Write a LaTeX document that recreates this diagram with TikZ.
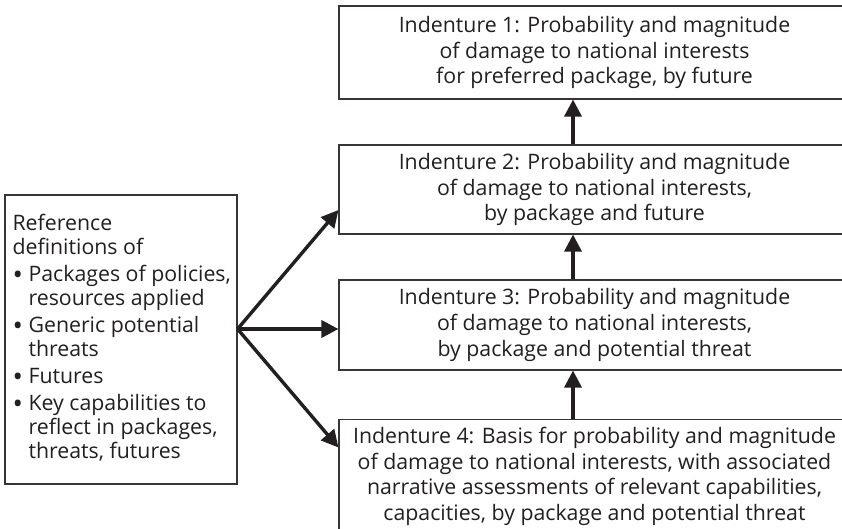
\documentclass[tikz,border=0pt]{standalone}
\usepackage{fontspec}
\setmainfont{Open Sans}
\usetikzlibrary{arrows.meta}
\definecolor{ink}{HTML}{231F20}
\newcommand{\bul}{\makebox[16pt][l]{\raisebox{-3.2pt}{\scalebox{1.3}{\textbullet}}}}
\tikzset{
  box/.style={draw=ink!90, line width=1.1pt, text=ink, align=center, inner sep=0pt,
    font=\fontsize{21.3}{25.7}\selectfont},
  arr/.style={draw=ink, line width=3.4pt, -{Triangle[length=17pt,width=17pt]}}
}
\begin{document}
\begin{tikzpicture}[x=1pt,y=-1pt]
\useasboundingbox (0,0) rectangle (842,529);
\clip (0,0) rectangle (842,529);
\fill[white] (0,0) rectangle (842,529);
\node[box, minimum width=511pt, minimum height=93pt] (B1) at (594.5,52.5)
  {Indenture 1: Probability and magnitude\\of damage to national interests\\for preferred package, by future};
\node[box, minimum width=511pt, minimum height=89pt] (B2) at (594.5,189.5)
  {Indenture 2: Probability and magnitude\\of damage to national interests,\\by package and future};
\node[box, minimum width=511pt, minimum height=90pt] (B3) at (594.5,325)
  {Indenture 3: Probability and magnitude\\of damage to national interests,\\by package and potential threat};
\node[box, minimum width=511pt, minimum height=115pt, anchor=north] (B4) at (594.5,418.5)
  {Indenture 4: Basis for probability and magnitude\\of damage to national interests, with associated\\narrative assessments of relevant capabilities,\\capacities, by package and potential threat};
\node[box, minimum width=232pt, minimum height=289pt] (L) at (121,339.5) {};
\node[box, draw=none, align=left, anchor=north west, font=\fontsize{21.3}{24}\selectfont] (Ltxt) at (12,213.5)
  {Reference\\definitions of\\[3pt]
   \bul Packages of policies,\\\hspace*{16pt}resources applied\\[3pt]
   \bul Generic potential\\\hspace*{16pt}threats\\[3pt]
   \bul Futures\\[3pt]
   \bul Key capabilities to\\\hspace*{16pt}reflect in packages,\\\hspace*{16pt}threats, futures};
\coordinate (src) at ([yshift=10.5pt]L.east);
\draw[arr] (src) -- ([yshift=-20.5pt]B2.west);
\draw[arr] (src) -- ([yshift=-4pt]B3.west);
\draw[arr] (src) -- ([yshift=-29pt]B4.north west);
\draw[arr] ([xshift=-21.5pt]B2.north) -- ([xshift=-21.5pt]B1.south);
\draw[arr] ([xshift=-21.5pt]B3.north) -- ([xshift=-21.5pt]B2.south);
\draw[arr] ([xshift=-21.5pt]B4.north) -- ([xshift=-21.5pt]B3.south);
\end{tikzpicture}
\end{document}
